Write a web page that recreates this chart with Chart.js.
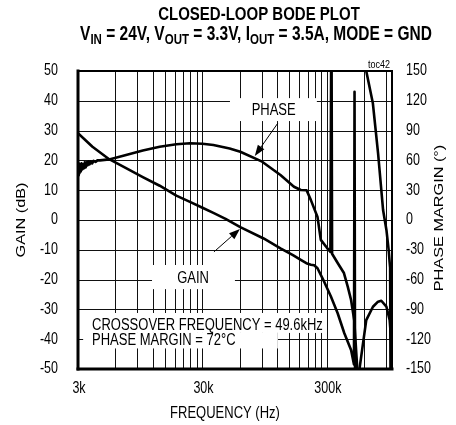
<!DOCTYPE html>
<html>
<head>
<meta charset="utf-8">
<script src="https://cdn.jsdelivr.net/npm/chart.js@4.4.1/dist/chart.umd.min.js"></script>
<style>
  html, body { margin: 0; padding: 0; background: #fff; }
  #wrap { width: 456px; height: 425px; }
</style>
</head>
<body>
<div id="wrap"><canvas id="bode"></canvas></div>
<script>
// ── Data ──────────────────────────────────────────────────────────

const gainFreq = [3000, 3920, 5340, 7300, 9950, 13600, 18500, 23800, 30000, 36700, 46000, 60400,
  93000, 127000, 160000, 185000, 205000, 223000, 237000, 252000, 285000, 323000, 366000, 414000,
  469000, 495000, 500000, 505000, 540000, 548000, 621000, 703000, 772000, 821000, 902000, 958000,
  989000, 1000000];
const gainDb = [29.1, 24.6, 20.4, 17.4, 14.4, 11.5, 8.2, 6.1, 4.1, 2.4, 0.4, -2.4,
  -6.2, -9.5, -11.8, -13.4, -14.5, -15.0, -15.2, -16.2, -20.7, -25.7, -31.3, -38.0,
  -43.6, -48.5, 43, -60, -60, -50, -33.6, -29.1, -27.4, -27.1, -29.1, -33.6,
  -41.3, -49.2];

const phaseFreq = [3000, 3040, 3080, 3120, 3160, 3200, 3250, 3300, 3350, 3400, 3460, 3520, 3580,
  3650, 3720, 3800, 3900, 4000, 4150, 4300, 4500, 5340, 7300, 9950, 13600, 18500, 23800, 30000,
  36700, 49600, 60400, 90500, 127000, 163000, 185000, 206000, 223000, 252000, 268000, 300000,
  320000, 326000, 330000, 366000, 411000, 441000, 469000, 497000, 525000, 545000, 550000,
  590000, 621000, 702000, 773000, 848000, 902000, 940000, 958000, 966000, 973000, 981000, 990000];
const phaseDeg = [45, 57, 47, 56, 49, 57, 51, 56, 52, 58, 53, 58, 55,
  59, 56, 59, 57, 59.5, 58.5, 60, 60, 61, 65.5, 70, 73.8, 76.3, 77.2, 76.8,
  75.5, 72, 68.7, 58.7, 45.3, 33.5, 30.2, 30, 20, 3, -20, -28,
  -32, 230, -34, -43.3, -53.4, -67.1, -80.5, -100.7, -148, -190, null,
  190, 150, 117.5, 67, 10, -10, -30, -43, -48, -220, -46, -220];

const xGridFreqs = [6000, 9000, 12000, 15000, 18000, 21000, 24000, 27000, 30000,
  60000, 90000, 120000, 150000, 180000, 210000, 240000, 270000, 300000, 600000, 900000];
const xTickValues = [3000, 30000, 300000];
const xTickLabels = ['3k', '30k', '300k'];
const gainTicks = [50, 40, 30, 20, 10, 0, -10, -20, -30, -40, -50];
const phaseTicks = [150, 120, 90, 60, 30, 0, -30, -60, -90, -120, -150];

// ── Annotations (frequency / dB coordinates) ──────────────────────

const labelBoxes = [
  { f: [49900, 249000], db: [33.2, 40.9] },
  { f: [11800, 54700], db: [-15.1, -23.2] },
  { f: [3300, 300000], db: [-31.2, -37.9] },
  { f: [3300, 121000], db: [-37.9, -43.1] }
];
const labelTexts = [
  { text: 'PHASE', f: 112000, db: 36.6, align: 'center' },
  { text: 'GAIN', f: 25200, db: -19.5, align: 'center' },
  { text: 'CROSSOVER FREQUENCY = 49.6kHz', f: 3890, db: -35.4, align: 'left' },
  { text: 'PHASE MARGIN = 72°C', f: 3890, db: -40.6, align: 'left' }
];
const arrows = [
  { from: [121000, 32.5], to: [79000, 21.5] },
  { from: [37100, -10.7], to: [60000, -3.0] }
];

const FONT = '"Liberation Sans", Arial, sans-serif';
const STRETCH = 1.25;   // reference text is taller than it is wide

// ── Helpers ───────────────────────────────────────────────────────

function _text(ctx, str, x, y, o = {}) {
  ctx.save();
  ctx.font = `${o.weight || 'normal'} ${o.size || 12.5}px ${FONT}`;
  ctx.fillStyle = '#000';
  ctx.textAlign = o.align || 'center';
  ctx.textBaseline = 'middle';
  ctx.translate(x, y);
  if (o.rotate) { ctx.rotate(o.rotate); ctx.scale(STRETCH, 1); }
  else ctx.scale(1, STRETCH);
  ctx.fillText(str, 0, 0);
  ctx.restore();
}

function _richLine(ctx, parts, cx, y) {
  const sizeOf = p => (p.sub ? 11.5 : 15.5);
  let total = 0;
  parts.forEach(p => { ctx.font = `bold ${sizeOf(p)}px ${FONT}`; total += ctx.measureText(p.t).width; });
  let x = cx - total / 2;
  parts.forEach(p => {
    ctx.font = `bold ${sizeOf(p)}px ${FONT}`;
    const w = ctx.measureText(p.t).width;
    _text(ctx, p.t, x, y + (p.sub ? 5 : 0), { size: sizeOf(p), weight: 'bold', align: 'left' });
    x += w;
  });
}

function _arrow(ctx, x1, y1, x2, y2) {
  const a = Math.atan2(y2 - y1, x2 - x1), len = 11, w = 4;
  ctx.save();
  ctx.strokeStyle = '#000';
  ctx.fillStyle = '#000';
  ctx.lineWidth = 1;
  ctx.beginPath();
  ctx.moveTo(x1, y1);
  ctx.lineTo(x2 - Math.cos(a) * len, y2 - Math.sin(a) * len);
  ctx.stroke();
  ctx.beginPath();
  ctx.moveTo(x2, y2);
  ctx.lineTo(x2 - Math.cos(a) * len - Math.sin(a) * w, y2 - Math.sin(a) * len + Math.cos(a) * w);
  ctx.lineTo(x2 - Math.cos(a) * len + Math.sin(a) * w, y2 - Math.sin(a) * len - Math.cos(a) * w);
  ctx.closePath();
  ctx.fill();
  ctx.restore();
}

const bodeDecor = {
  id: 'bodeDecor',
  beforeDatasetsDraw(chart) {
    const { ctx, chartArea: a, scales: { x, y } } = chart;
    ctx.save();

    // grid, placed through the chart's own scales
    ctx.strokeStyle = '#111';
    ctx.lineWidth = 1;
    ctx.beginPath();
    xGridFreqs.forEach(f => {
      const px = Math.round(x.getPixelForValue(f)) + 0.5;
      ctx.moveTo(px, a.top);
      ctx.lineTo(px, a.bottom);
    });
    gainTicks.slice(1, -1).forEach(v => {
      const py = Math.round(y.getPixelForValue(v)) + 0.5;
      ctx.moveTo(a.left, py);
      ctx.lineTo(a.right, py);
    });
    ctx.stroke();

    // white backgrounds behind the labels
    ctx.fillStyle = '#fff';
    labelBoxes.forEach(b => {
      const x0 = x.getPixelForValue(b.f[0]), x1 = x.getPixelForValue(b.f[1]);
      const y0 = y.getPixelForValue(b.db[0]), y1 = y.getPixelForValue(b.db[1]);
      ctx.fillRect(x0, y0, x1 - x0, y1 - y0);
    });
    ctx.restore();
  },
  afterDatasetsDraw(chart) {
    const { ctx, chartArea: a, scales: { x, y, y1 } } = chart;

    // plot frame
    ctx.save();
    ctx.strokeStyle = '#000';
    ctx.lineCap = 'square';
    [[a.left, a.top, a.left, a.bottom, 3], [a.left, a.bottom, a.right, a.bottom, 3],
     [a.left, a.top, a.right, a.top, 2], [a.right, a.top, a.right, a.bottom, 2]].forEach(s => {
      ctx.lineWidth = s[4];
      ctx.beginPath();
      ctx.moveTo(s[0], s[1]);
      ctx.lineTo(s[2], s[3]);
      ctx.stroke();
    });
    ctx.restore();

    // tick labels
    gainTicks.forEach(v => _text(ctx, String(v), a.left - 20, y.getPixelForValue(v), { align: 'right' }));
    phaseTicks.forEach(v => _text(ctx, String(v), a.right + 14, y1.getPixelForValue(v), { align: 'left' }));
    xTickValues.forEach((v, i) => _text(ctx, xTickLabels[i], x.getPixelForValue(v) + 1, a.bottom + 19.5));

    // axis titles
    _text(ctx, 'GAIN (dB)', 21, 220, { size: 13, rotate: -Math.PI / 2 });
    _text(ctx, 'PHASE MARGIN (°)', 439, 218, { size: 13, rotate: -Math.PI / 2 });
    _text(ctx, 'FREQUENCY (Hz)', 225, 414, { size: 13 });

    // title
    _text(ctx, 'CLOSED-LOOP BODE PLOT', 259, 15, { size: 15, weight: 'bold' });
    _richLine(ctx, [
      { t: 'V' }, { t: 'IN', sub: true }, { t: ' = 24V, V' }, { t: 'OUT', sub: true },
      { t: ' = 3.3V, I' }, { t: 'OUT', sub: true }, { t: ' = 3.5A, MODE = GND' }
    ], 256, 35);
    _text(ctx, 'toc42', a.right - 2, a.top - 6, { size: 9, align: 'right' });

    // curve labels and arrows
    labelTexts.forEach(l => _text(ctx, l.text, x.getPixelForValue(l.f), y.getPixelForValue(l.db), { size: 13, align: l.align }));
    arrows.forEach(r => _arrow(ctx,
      x.getPixelForValue(r.from[0]), y.getPixelForValue(r.from[1]),
      x.getPixelForValue(r.to[0]), y.getPixelForValue(r.to[1])));
  }
};

// ── Chart ─────────────────────────────────────────────────────────

const lineStyle = {
  borderColor: '#000', borderWidth: 2.6, pointRadius: 0, tension: 0,
  borderJoinStyle: 'round', borderCapStyle: 'round', spanGaps: false, fill: false
};

new Chart(document.getElementById('bode'), {
  type: 'line',
  data: {
    datasets: [
      Object.assign({ label: 'GAIN', yAxisID: 'y', data: gainFreq.map((f, i) => ({ x: f, y: gainDb[i] })) }, lineStyle),
      Object.assign({ label: 'PHASE', yAxisID: 'y1', data: phaseFreq.map((f, i) => ({ x: f, y: phaseDeg[i] })) }, lineStyle)
    ]
  },
  options: {
    responsive: true,
    maintainAspectRatio: false,
    devicePixelRatio: 1,
    animation: false,
    layout: { padding: { left: 78, top: 71, right: 64, bottom: 56 } },
    plugins: { legend: { display: false }, tooltip: { enabled: false } },
    scales: {
      x: {
        type: 'logarithmic', min: 3000, max: 1000000,
        ticks: { display: false },
        grid: { display: false, drawTicks: false },
        border: { display: false }
      },
      y: {
        position: 'left', min: -50, max: 50,
        ticks: { display: false, stepSize: 10 },
        grid: { display: false, drawTicks: false },
        border: { display: false }
      },
      y1: {
        position: 'right', min: -150, max: 150,
        ticks: { display: false, stepSize: 30 },
        grid: { display: false, drawTicks: false },
        border: { display: false }
      }
    }
  },
  plugins: [bodeDecor]
});
</script>
</body>
</html>
